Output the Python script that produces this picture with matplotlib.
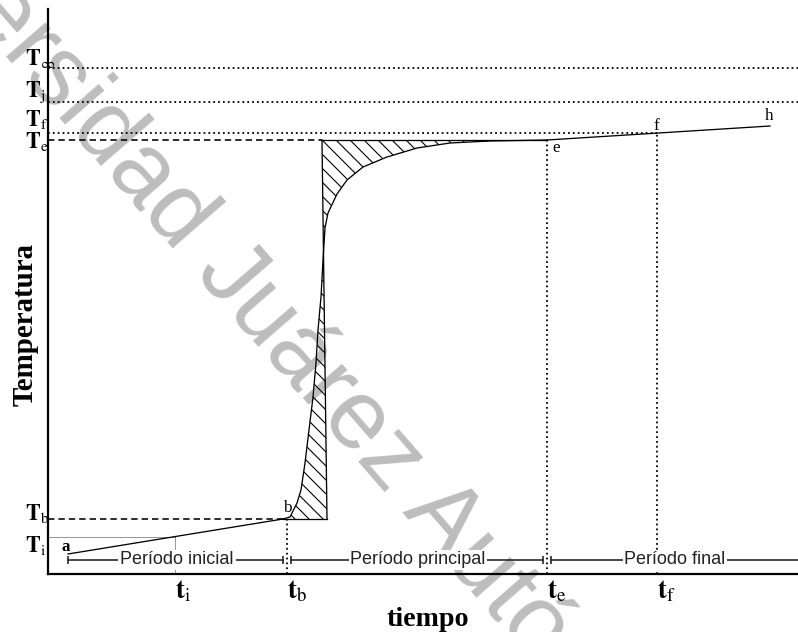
import matplotlib.pyplot as plt
import numpy as np

DPI = 84
PX = 72.0 / DPI   # points per pixel

# ---- schematic values (time, temperature in arbitrary units) ----
t_a, T_a = 2.0, 2.0
t_i, T_i = 12.7, 3.7
t_b, T_b = 23.5, 5.5
t_b_line = 23.9
t_e, T_e = 49.9, 43.4
t_f, T_f = 60.9, 44.1
t_h, T_h = 72.2, 44.8
T_j = 47.2
T_inf = 50.6

# main period curve from b to e
curve_t = [23.5, 24.2, 24.9, 25.3, 25.7, 26.1, 26.5, 26.8, 27.0, 27.3, 27.5,
           27.7, 28.0, 28.9, 29.9, 31.5, 33.9, 36.9, 40.2, 44.2, 49.9]
curve_T = [5.5, 5.7, 7.1, 8.4, 11.1, 14.4, 17.7, 21.1, 24.4, 27.7, 31.4,
           34.6, 36.1, 38.0, 39.4, 40.7, 41.7, 42.6, 43.1, 43.3, 43.4]

# near-vertical boundary of the hatched areas (bottom, top)
vline_t = [27.9, 27.4]
vline_T = [5.5, 43.4]

# period bars
periods = ["Período inicial", "Período principal", "Período final"]
period_start = [2.0, 24.3, 50.3]
period_end = [23.5, 49.5, 75.0]
period_mid = [12.9, 37.0, 62.7]
period_T = 1.4

T_labels = [r"$\mathbf{T}_{\infty}$", r"$\mathbf{T}_{\mathrm{j}}$", r"$\mathbf{T}_{\mathrm{f}}$",
            r"$\mathbf{T}_{\mathrm{e}}$", r"$\mathbf{T}_{\mathrm{b}}$", r"$\mathbf{T}_{\mathrm{i}}$"]
T_values = [T_inf, T_j, T_f, T_e, T_b, T_i]
T_label_dy = [3, 5, 7, -8, -1, -15]      # pixel offsets of the labels

t_labels = [r"$\mathbf{t}_{\mathrm{i}}$", r"$\mathbf{t}_{\mathrm{b}}$",
            r"$\mathbf{t}_{\mathrm{e}}$", r"$\mathbf{t}_{\mathrm{f}}$"]
t_values = [t_i, t_b_line, t_e, t_f]

plt.rcParams['mathtext.fontset'] = 'stix'
plt.rcParams['hatch.linewidth'] = 1.1 * PX

fig = plt.figure(figsize=(798 / DPI, 632 / DPI), dpi=DPI)
ax = fig.add_axes([48 / 798, 58 / 632, 750 / 798, 565 / 632])
ax.set_xlim(0, 75)
ax.set_ylim(0, 56.5)
ax.set_xticks([])
ax.set_yticks([])
for s in ['top', 'right']:
    ax.spines[s].set_visible(False)
for s in ['left', 'bottom']:
    ax.spines[s].set_linewidth(2.2 * PX)
    ax.spines[s].set_zorder(5)

# watermark
ax.text(-163 / 798, 1 + 138 / 632, "Universidad Juárez Autónoma de Tabasco",
        transform=fig.transFigure, rotation=-49, rotation_mode='anchor',
        ha='left', va='baseline', fontsize=98 * PX, family='Liberation Sans',
        color='#bdbdbd', zorder=0.5, clip_on=False)

dot = dict(color='black', linestyle=(0, (1, 1.7)), linewidth=1.8 * PX)
dash = dict(color='black', linestyle=(0, (4, 2.5)), linewidth=1.6 * PX)
fine_dot = dict(color='#333333', linestyle=(0, (1, 1)), linewidth=1.0 * PX)

# horizontal reference lines
ax.plot([0, 75], [T_inf, T_inf], **dot)
ax.plot([0, 75], [T_j, T_j], **dot)
ax.plot([0, t_f], [T_f, T_f], **dot)
ax.plot([0, vline_t[1]], [T_e, T_e], **dash)
ax.plot([0, t_b], [T_b, T_b], **dash)
ax.plot([0, t_i], [T_i, T_i], **fine_dot)

# vertical reference lines
ax.plot([t_i, t_i], [0, T_i], **fine_dot)
ax.plot([t_b_line, t_b_line], [0, T_b], **dot)
ax.plot([t_e, t_e], [0, T_e], **dot)
ax.plot([t_f, t_f], [0, T_f], **dot)

# temperature curve
lw = 1.3 * PX
ax.plot([t_a, t_b], [T_a, T_b], color='black', linewidth=lw)
ax.plot(curve_t, curve_T, color='black', linewidth=lw)
ax.plot([t_e, t_h], [T_e, T_h], color='black', linewidth=lw)
ax.plot(vline_t, vline_T, color='black', linewidth=lw)
ax.plot([t_b, vline_t[0]], [T_b, T_b], color='black', linewidth=lw)
ax.plot([vline_t[1], t_e], [T_e, T_e], color='black', linewidth=lw)

v_at_curve = np.interp(curve_T, vline_T, vline_t)
ax.fill_betweenx(curve_T, curve_t, v_at_curve, facecolor='none',
                 edgecolor='black', hatch='\\\\', linewidth=0)

# point labels
pt_font = dict(family='Liberation Serif', fontsize=17 * PX, color='black')
ax.annotate('a', (t_a, T_a), xytext=(-7, 3), textcoords='offset pixels',
            fontweight='bold', ha='left', va='baseline', **pt_font)
ax.annotate('b', (t_b, T_b), xytext=(0, 7), textcoords='offset pixels',
            ha='left', va='baseline', **pt_font)
ax.annotate('e', (t_e, T_e), xytext=(5, -12), textcoords='offset pixels',
            ha='left', va='baseline', **pt_font)
ax.annotate('f', (t_f, T_f), xytext=(-4, 3), textcoords='offset pixels',
            ha='left', va='baseline', **pt_font)
ax.annotate('h', (t_h, T_h), xytext=(-5, 6), textcoords='offset pixels',
            ha='left', va='baseline', **pt_font)

# period bars
for name, x0, x1, xm in zip(periods, period_start, period_end, period_mid):
    ax.plot([x0, x1], [period_T, period_T], color='#222222', linewidth=1.6 * PX)
    ends = [x0, x1] if x1 < 75 else [x0]
    ax.plot(ends, [period_T] * len(ends), linestyle='none', marker='|',
            markersize=8 * PX, markeredgewidth=1.6 * PX, color='#222222')
    ax.text(xm, period_T, name, ha='center', va='center', family='Liberation Sans',
            fontsize=18 * PX, color='#222222', zorder=4,
            bbox=dict(facecolor='white', edgecolor='none', pad=1.5))

# axis labels (y side)
for lab, val, dy in zip(T_labels, T_values, T_label_dy):
    ax.annotate(lab, (0, val), xytext=(-23, dy), textcoords='offset pixels',
                ha='left', va='baseline', fontsize=22 * PX, annotation_clip=False)

# axis labels (x side)
for lab, val in zip(t_labels, t_values):
    ax.annotate(lab, (val, 0), xytext=(0, -24), textcoords='offset pixels',
                ha='left', va='baseline', fontsize=27 * PX, annotation_clip=False)

fig.text(25 / 798, 1 - 325 / 632, "Temperatura", rotation=90, ha='center', va='center',
         family='Liberation Serif', fontweight='bold', fontsize=29 * PX)
fig.text(428 / 798, 1 - 626 / 632, "tiempo", ha='center', va='baseline',
         family='Liberation Serif', fontweight='bold', fontsize=28 * PX)

fig.savefig("out.png", dpi=DPI)
